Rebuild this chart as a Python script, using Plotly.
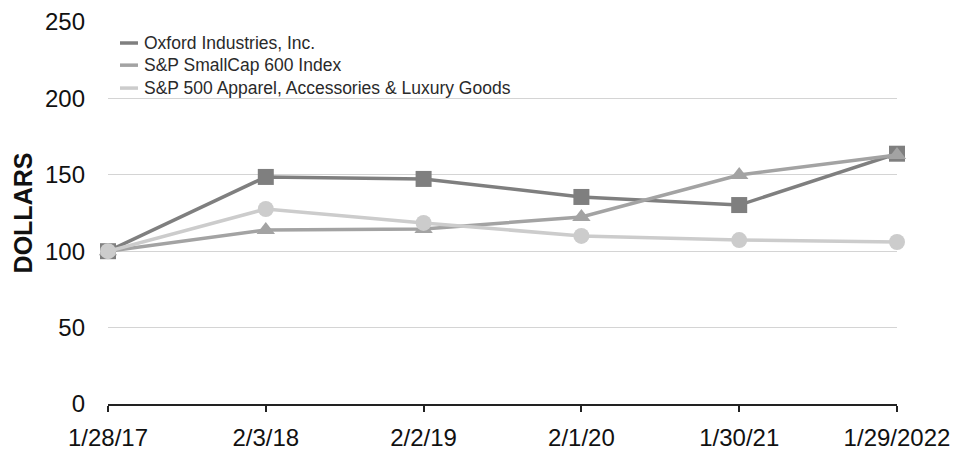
import plotly.graph_objects as go

dates = ["1/28/17", "2/3/18", "2/2/19", "2/1/20", "1/30/21", "1/29/2022"]
oxford = [100, 148.6, 147.3, 135.5, 130.2, 163.8]
smallcap = [100, 113.9, 114.5, 122.4, 149.9, 163.0]
apparel = [100, 127.6, 118.5, 110.0, 107.3, 106.0]
names = ["Oxford Industries, Inc.", "S&P SmallCap 600 Index",
         "S&P 500 Apparel, Accessories & Luxury Goods"]
colors = ["#7f7f7f", "#a3a3a3", "#cccccc"]
symbols = ["square", "triangle-up", "circle"]
y_ticks = [0, 50, 100, 150, 200, 250]

FONT = "Liberation Sans, Arial, sans-serif"
xs = list(range(len(dates)))

fig = go.Figure()
for name, vals, col, sym in zip(names, [oxford, smallcap, apparel], colors, symbols):
    fig.add_trace(go.Scatter(
        x=xs, y=vals, name=name, mode="lines+markers",
        line=dict(color=col, width=3.5),
        marker=dict(symbol=sym, size=16, color=col),
        cliponaxis=False, showlegend=False))

# custom legend (short line swatches)
leg_y = [0.945, 0.887, 0.827]
for name, col, ly in zip(names, colors, leg_y):
    fig.add_shape(type="line", xref="paper", yref="paper",
                  x0=0.0152, x1=0.0380, y0=ly, y1=ly,
                  line=dict(color=col, width=3.5))
    fig.add_annotation(xref="paper", yref="paper", x=0.0435, y=ly,
                       text=name, showarrow=False, xanchor="left", yanchor="middle",
                       font=dict(family=FONT, size=17.5, color="#2a2a2a"))

fig.update_layout(
    width=953, height=450,
    margin=dict(l=108, r=56, t=22, b=46),
    paper_bgcolor="white", plot_bgcolor="white",
    font=dict(family=FONT, color="#111"),
    xaxis=dict(range=[0, 5], tickvals=xs, ticktext=dates, automargin=False,
               showgrid=False, zeroline=False,
               showline=True, linecolor="#222", linewidth=2,
               ticks="outside", ticklen=6, tickwidth=2, tickcolor="#222",
               ticklabelstandoff=5,
               tickfont=dict(size=24, family=FONT, color="#111")),
    yaxis=dict(range=[0, 250], tickvals=y_ticks, automargin=False,
               showgrid=True, gridcolor="#d4d4d4", gridwidth=1,
               zeroline=False, showline=False, ticks="",
               ticklabelstandoff=22,
               tickfont=dict(size=24, family=FONT, color="#111")),
)
fig.update_yaxes(title=dict(text="<b>DOLLARS</b>", standoff=5,
                            font=dict(size=25, family=FONT, color="#111")))

fig.write_html("out.html")
